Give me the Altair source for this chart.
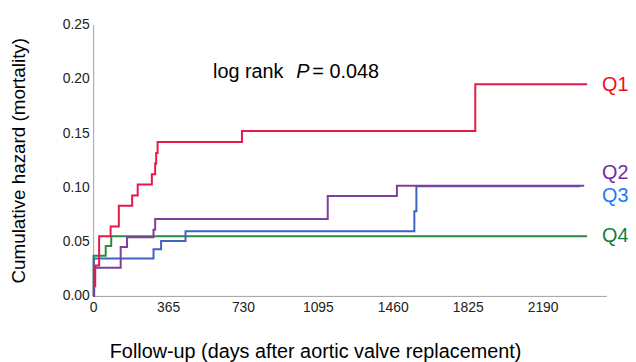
import altair as alt
import pandas as pd

# ---- data ----
q1_days = [5, 10, 29, 85, 125, 190, 217, 286, 302, 307, 314, 725, 1862, 2407]
q1_vals = [0.009, 0.028, 0.055, 0.064, 0.083, 0.0925, 0.1026, 0.112, 0.122, 0.1316, 0.1417, 0.152, 0.195, 0.195]

q2_days = [0, 5, 134, 165, 294, 302, 1143, 1480, 2393]
q2_vals = [0.0, 0.026, 0.045, 0.054, 0.061, 0.0708, 0.092, 0.1016, 0.1016]

q3_days = [0, 3, 294, 331, 450, 1565, 1575, 2373]
q3_vals = [0.0, 0.0345, 0.043, 0.0507, 0.0595, 0.078, 0.101, 0.101]

q4_days = [0, 2, 61, 88, 2407]
q4_vals = [0.0, 0.037, 0.046, 0.055, 0.055]

groups = ["Q4", "Q3", "Q2", "Q1"]
line_colors = ["#2e8b3e", "#3f63c2", "#7d3f9c", "#e5194a"]
label_colors = ["#128040", "#1f7bf0", "#7030a0", "#ee1122"]
label_y = [0.0556, 0.0921, 0.1131, 0.194]
label_x_day = 2480

x_ticks = [0, 365, 730, 1095, 1460, 1825, 2190]
y_ticks = [0.0, 0.05, 0.10, 0.15, 0.20, 0.25]

series = {"Q1": (q1_days, q1_vals), "Q2": (q2_days, q2_vals),
          "Q3": (q3_days, q3_vals), "Q4": (q4_days, q4_vals)}
rows = []
for g in groups:
    d, v = series[g]
    for di, vi in zip(d, v):
        rows.append({"group": g, "day": di, "hazard": vi})
df = pd.DataFrame(rows)

labels_df = pd.DataFrame({"group": groups, "y": label_y, "color": label_colors,
                          "x": [label_x_day] * 4})

FONT = "Arial, Liberation Sans, sans-serif"

xscale = alt.Scale(domain=[0, 2500], nice=False, zero=False)
yscale = alt.Scale(domain=[0, 0.25], nice=False)

lines = alt.Chart(df).mark_line(interpolate="step-after", strokeWidth=2).encode(
    x=alt.X("day:Q", scale=xscale,
            axis=alt.Axis(values=x_ticks, format="d",
                          title="Follow-up (days after aortic valve replacement)",
                          labelPadding=5, titlePadding=27, labelFlush=False,
                          titleX=224, titleAlign="center", titleFontSize=20)),
    y=alt.Y("hazard:Q", scale=yscale,
            axis=alt.Axis(values=y_ticks, format=".2f", title="Cumulative hazard (mortality)",
                          labelPadding=4, titlePadding=34)),
    color=alt.Color("group:N", scale=alt.Scale(domain=groups, range=line_colors), legend=None),
    order=alt.Order("day:Q"),
)

qlabels = alt.Chart(labels_df).mark_text(align="left", baseline="middle", fontSize=20, font=FONT).encode(
    x=alt.X("x:Q", scale=xscale),
    y=alt.Y("y:Q", scale=yscale),
    text="group:N",
    color=alt.Color("color:N", scale=None),
)

ann1 = alt.Chart().mark_text(align="left", baseline="alphabetic", fontSize=20, font=FONT, color="#000").encode(
    x=alt.datum(584), y=alt.datum(0.201), text=alt.value("log rank"))
ann2 = alt.Chart().mark_text(align="left", baseline="alphabetic", fontSize=20, font=FONT, fontStyle="italic", color="#000").encode(
    x=alt.datum(990), y=alt.datum(0.201), text=alt.value("P"))
ann3 = alt.Chart().mark_text(align="left", baseline="alphabetic", fontSize=20, font=FONT, color="#000").encode(
    x=alt.datum(1068), y=alt.datum(0.201), text=alt.value("= 0.048"))

chart = alt.layer(lines, qlabels, ann1, ann2, ann3).properties(
    width=518, height=274,
    autosize=alt.AutoSizeParams(type="none"),
    padding={"left": 86, "top": 15, "right": 22, "bottom": 65},
).configure_view(stroke=None).configure_axis(
    grid=False, ticks=False, domainColor="#a0a0a0", domainWidth=1,
    labelFont=FONT, labelFontSize=14, labelColor="#222",
    titleFont=FONT, titleFontSize=19, titleFontWeight="normal", titleColor="#000",
)

chart.save("out.html", embed_options={"renderer": "svg", "actions": False})
